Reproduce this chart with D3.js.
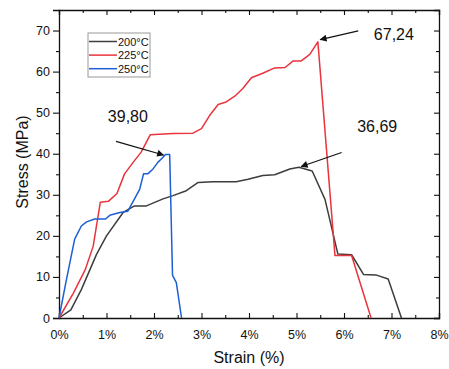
<!DOCTYPE html>
<html>
<head>
<meta charset="utf-8">
<script src="https://cdn.jsdelivr.net/npm/d3@7"></script>
<style>
  body { margin: 0; background: #fff; }
  text { font-family: "Liberation Sans", Arial, sans-serif; fill: #111; }
</style>
</head>
<body>
<div id="plot"></div>
<script>
// Data (strain in %, stress in MPa)
var strain200 = [0, 0.25, 0.47, 0.79, 1.0, 1.35, 1.59, 1.84, 2.19, 2.4, 2.68, 2.93, 3.24, 3.73, 3.98, 4.29, 4.54, 4.86, 5.05, 5.33, 5.6, 5.87, 6.16, 6.41, 6.67, 6.93, 7.21];
var stress200 = [0, 2.0, 6.9, 15.5, 20, 25.7, 27.3, 27.3, 29, 29.8, 31, 33, 33.2, 33.2, 33.8, 34.7, 34.9, 36.3, 36.69, 35.8, 28.9, 15.6, 15.4, 10.6, 10.5, 9.5, 0];

var strain225 = [0, 0.3, 0.55, 0.72, 0.87, 1.04, 1.22, 1.38, 1.56, 1.73, 1.92, 2.4, 2.82, 3.0, 3.17, 3.35, 3.52, 3.7, 3.87, 4.05, 4.29, 4.54, 4.76, 4.93, 5.1, 5.28, 5.45, 5.81, 6.16, 6.57];
var stress225 = [0, 6, 11.7, 17.5, 28.2, 28.4, 30.3, 35.1, 37.9, 40.4, 44.6, 44.9, 45, 46.1, 49.3, 52, 52.6, 54, 55.9, 58.5, 59.6, 60.9, 61, 62.6, 62.6, 64.2, 67.24, 15.2, 15.2, 0];

var strain250 = [0, 0.15, 0.33, 0.47, 0.58, 0.75, 0.98, 1.07, 1.28, 1.45, 1.59, 1.7, 1.78, 1.87, 1.98, 2.08, 2.17, 2.24, 2.33, 2.39, 2.47, 2.58];
var stress250 = [0, 9, 19.2, 22.4, 23.4, 24.1, 24.1, 25, 25.7, 26, 29, 31.4, 35.1, 35.1, 36.3, 37.9, 38.9, 39.8, 39.8, 10.4, 8.6, 0];

var seriesNames = ["200°C", "225°C", "250°C"];
var seriesColors = ["#3d3d3d", "#e8343c", "#1d5fd4"];

var xTicks = [0, 1, 2, 3, 4, 5, 6, 7, 8];
var yTicks = [0, 10, 20, 30, 40, 50, 60, 70];

// annotations: label, label position, arrow start, arrow end (data units)
var notes = [
  {label: "67,24", tx: 7.05, ty: 67.6, x1: 6.3, y1: 69.9, x2: 5.5, y2: 67.8},
  {label: "36,69", tx: 6.7, ty: 45.2, x1: 5.95, y1: 40.3, x2: 5.1, y2: 36.9},
  {label: "39,80", tx: 1.45, ty: 47.7, x1: 1.2, y1: 43.0, x2: 2.2, y2: 39.7}
];

// Dimensions
var margin = {top: 10, right: 10, bottom: 51, left: 59},
    width = 449 - margin.left - margin.right,
    height = 369 - margin.top - margin.bottom;

var svg = d3.select("#plot")
    .append("svg")
        .attr("width", 449)
        .attr("height", 369)
    .append("g")
        .attr("transform", "translate(" + margin.left + "," + margin.top + ")");

var x = d3.scaleLinear().domain([0, 8]).range([0, width]);
var y = d3.scaleLinear().domain([0, 75]).range([height, 0]);

// arrow head
svg.append("defs").append("marker")
    .attr("id", "head")
    .attr("viewBox", "0 0 10 10")
    .attr("refX", 9).attr("refY", 5)
    .attr("markerWidth", 9).attr("markerHeight", 7)
    .attr("markerUnits", "userSpaceOnUse")
    .attr("orient", "auto")
  .append("path")
    .attr("d", "M0,0 L10,5 L0,10 Z")
    .attr("fill", "#111");

// minor ticks
var xMinor = d3.range(0.5, 8, 1);
var yMinor = d3.range(5, 75, 10);

// Bottom axis (ticks inward)
svg.append("g")
    .attr("transform", "translate(0," + height + ")")
    .call(d3.axisBottom(x).tickValues(xTicks).tickSize(-5).tickPadding(12)
        .tickFormat(function(d) { return d + "%"; }))
    .call(function(g) {
        g.selectAll(".tick text").style("font-size", "12.5px").attr("dy", "0.71em");
    });
svg.append("g")
    .attr("transform", "translate(0," + height + ")")
    .call(d3.axisBottom(x).tickValues(xMinor).tickSize(-3).tickFormat(""))
    .call(function(g) { g.select(".domain").remove(); });

// Top axis (ticks inward)
svg.append("g")
    .call(d3.axisTop(x).tickValues(xTicks).tickSize(-5).tickFormat(""));
svg.append("g")
    .call(d3.axisTop(x).tickValues(xMinor).tickSize(-3).tickFormat(""))
    .call(function(g) { g.select(".domain").remove(); });

// Left axis (ticks outward)
svg.append("g")
    .call(d3.axisLeft(y).tickValues(yTicks).tickSize(6).tickPadding(3))
    .call(function(g) {
        g.selectAll(".tick text").style("font-size", "12.5px");
    });
svg.append("g")
    .call(d3.axisLeft(y).tickValues(yMinor).tickSize(3).tickFormat(""))
    .call(function(g) { g.select(".domain").remove(); });

// Right axis (ticks inward)
svg.append("g")
    .attr("transform", "translate(" + width + ",0)")
    .call(d3.axisRight(y).tickValues(yTicks).tickSize(-5).tickFormat(""));
svg.append("g")
    .attr("transform", "translate(" + width + ",0)")
    .call(d3.axisRight(y).tickValues(yMinor).tickSize(-3).tickFormat(""))
    .call(function(g) { g.select(".domain").remove(); });

svg.selectAll(".domain").attr("stroke", "#111").attr("stroke-width", 1.3);
svg.selectAll(".tick line").attr("stroke", "#111").attr("stroke-width", 1.1);

// Axis titles
svg.append("text")
    .attr("x", width / 2)
    .attr("y", height + 45)
    .style("text-anchor", "middle")
    .style("font-size", "16px")
    .text("Strain (%)");
svg.append("text")
    .attr("transform", "rotate(-90)")
    .attr("x", -height / 2 + 2)
    .attr("y", -31)
    .style("text-anchor", "middle")
    .style("font-size", "16px")
    .text("Stress (MPa)");

// Lines
var series = [
    {xs: strain200, ys: stress200},
    {xs: strain225, ys: stress225},
    {xs: strain250, ys: stress250}
];
var line = d3.line()
    .x(function(d) { return x(d[0]); })
    .y(function(d) { return y(d[1]); });

series.forEach(function(s, i) {
    var pts = s.xs.map(function(v, j) { return [v, s.ys[j]]; });
    svg.append("path")
        .datum(pts)
        .attr("fill", "none")
        .attr("stroke", seriesColors[i])
        .attr("stroke-width", 1.5)
        .attr("stroke-linejoin", "round")
        .attr("d", line);
});

// Legend
var legend = svg.append("g").attr("transform", "translate(29,23)");
legend.append("rect")
    .attr("width", 62).attr("height", 44)
    .attr("fill", "#fff")
    .attr("stroke", "#999")
    .attr("stroke-width", 1);
seriesNames.forEach(function(name, i) {
    var yy = 8.5 + i * 13.6;
    legend.append("line")
        .attr("x1", 1).attr("x2", 29)
        .attr("y1", yy).attr("y2", yy)
        .attr("stroke", seriesColors[i])
        .attr("stroke-width", 1.5);
    legend.append("text")
        .attr("x", 30).attr("y", yy + 4)
        .style("font-size", "11px")
        .text(name);
});

// Annotations
notes.forEach(function(n) {
    svg.append("line")
        .attr("x1", x(n.x1)).attr("y1", y(n.y1))
        .attr("x2", x(n.x2)).attr("y2", y(n.y2))
        .attr("stroke", "#111")
        .attr("stroke-width", 1.2)
        .attr("marker-end", "url(#head)");
    svg.append("text")
        .attr("x", x(n.tx)).attr("y", y(n.ty))
        .style("text-anchor", "middle")
        .style("font-size", "16px")
        .text(n.label);
});
</script>
</body>
</html>
